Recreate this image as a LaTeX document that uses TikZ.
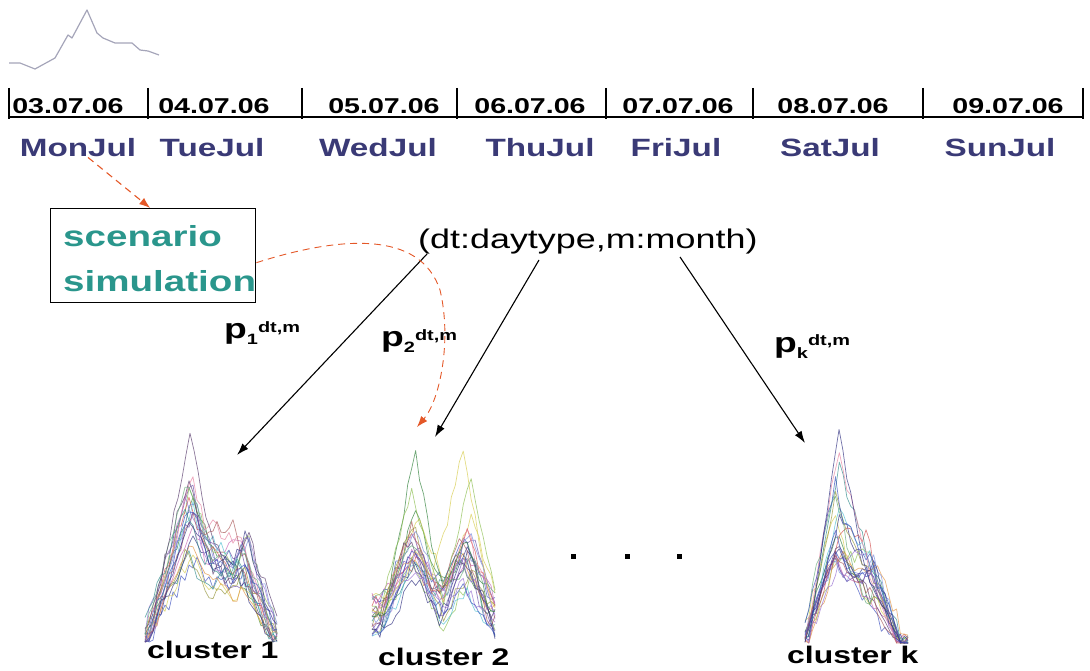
\documentclass[tikz,border=0pt]{standalone}
\usepackage{fontspec}
\setmainfont{Liberation Sans}[FakeStretch=1.33]
\usetikzlibrary{arrows.meta}

\definecolor{dayblue}{RGB}{58,58,118}
\definecolor{simteal}{RGB}{42,150,140}
\definecolor{simred}{RGB}{228,88,40}
\definecolor{loadgray}{RGB}{165,165,185}
% trace colours for the load profiles
\definecolor{tA}{RGB}{110,80,170}
\definecolor{tB}{RGB}{60,80,190}
\definecolor{tC}{RGB}{50,130,60}
\definecolor{tD}{RGB}{140,190,80}
\definecolor{tE}{RGB}{215,205,80}
\definecolor{tF}{RGB}{210,80,80}
\definecolor{tG}{RGB}{200,100,180}
\definecolor{tH}{RGB}{80,190,210}
\definecolor{tI}{RGB}{50,140,140}
\definecolor{tJ}{RGB}{225,150,70}
\definecolor{tK}{RGB}{50,50,130}
\definecolor{tL}{RGB}{150,150,60}
\definecolor{tM}{RGB}{150,110,210}
\definecolor{tN}{RGB}{230,130,160}
\definecolor{tO}{RGB}{120,140,220}
\definecolor{tP}{RGB}{90,60,110}
\definecolor{tQ}{RGB}{170,90,90}
\definecolor{tR}{RGB}{100,170,120}

\tikzset{
  datelbl/.style={anchor=base, inner sep=0pt, font=\fontsize{21.5}{24}\selectfont\bfseries},
  daylbl/.style={anchor=base, inner sep=0pt, text=dayblue, font=\fontsize{25}{28}\selectfont\bfseries},
  simtext/.style={anchor=base west, inner sep=0pt, text=simteal, font=\fontsize{29}{32}\selectfont\bfseries},
  clab/.style={anchor=base west, inner sep=0pt, font=\fontsize{24}{26}\selectfont\bfseries},
  problab/.style={anchor=base west, inner sep=0pt, font=\fontsize{28}{30}\selectfont\bfseries},
  conn/.style={black, line width=1.1pt, -{Latex[length=12pt,width=8pt]}},
  simconn/.style={simred, line width=1.1pt, dash pattern=on 7pt off 5pt, -{Latex[length=11pt,width=8pt]}},
  trace/.style={line width=0.7pt, opacity=0.7, line join=round},
  tick/.style={line width=1.1pt},
  dotmark/.style={fill=black, minimum size=5pt, inner sep=0pt},
}

\newcommand\pdtm[1]{p\raisebox{-6pt}{\fontsize{15}{15}\selectfont #1}\raisebox{6pt}{\fontsize{15}{15}\selectfont dt,m}}

\begin{document}
\begin{tikzpicture}[x=1pt,y=-1pt]
\useasboundingbox (0,0) rectangle (1090,671);

% sample load curve above the calendar
\draw[loadgray, line width=1.2pt, line join=round] plot coordinates {
  (9,63) (20,63) (35,69) (55,58) (68,35) (72,38) (87,10) (97,33) (103,38)
  (115,43) (132,43) (140,50) (148,51) (159,55)};

% calendar line with day separators
\draw[tick] (9,117) -- (1083,117);
\foreach \tx in {9,148,302,457,606,753,923,1083}
  \draw[tick] (\tx,88) -- (\tx,119);

\node[datelbl] (d1) at (68,113.5) {03.07.06};
\node[datelbl] (d2) at (214,113.5) {04.07.06};
\node[datelbl] (d3) at (384,113.5) {05.07.06};
\node[datelbl] (d4) at (530,113.5) {06.07.06};
\node[datelbl] (d5) at (678,113.5) {07.07.06};
\node[datelbl] (d6) at (833,113.5) {08.07.06};
\node[datelbl] (d7) at (1008,113.5) {09.07.06};

\node[daylbl] (mon) at (78,157) {MonJul};
\node[daylbl] (tue) at (212,157) {TueJul};
\node[daylbl] (wed) at (378,157) {WedJul};
\node[daylbl] (thu) at (540,157) {ThuJul};
\node[daylbl] (fri) at (676,157) {FriJul};
\node[daylbl] (sat) at (830,157) {SatJul};
\node[daylbl] (sun) at (1000,157) {SunJul};

% scenario simulation box
\node[draw, line width=1.4pt, minimum width=205pt, minimum height=94pt,
      inner sep=0pt, anchor=north west] (sim) at (50,208) {};
\node[simtext] (scen) at (63,247) {scenario};
\node[simtext] (simu) at (63,291) {simulation};

% condition label
\node[anchor=base west, inner sep=0pt, font=\fontsize{27}{30}\selectfont] (cond) at (418,248) {(dt:daytype,m:month)};

% branch probabilities
\node[problab] (p1) at (224,338) {\pdtm{1}};
\node[problab] (p2) at (381,346) {\pdtm{2}};
\node[problab] (pk) at (774,352) {\pdtm{k}};

% connector ends
\coordinate (o1) at (427,254);
\coordinate (o2) at (539,260);
\coordinate (o3) at (680,257);
\coordinate (c1in) at (237,455);
\coordinate (c2in) at (435,437);
\coordinate (ckin) at (805,443);
\coordinate (c2red) at (417,427);

% load profile clusters
\pgfmathsetseed{17}
\foreach \col in {tA,tB,tC,tD,tE,tF,tG,tH,tI,tJ,tK,tL,tM,tN,tO,tP,tQ,tR,tA,tB,tK,tI}{
  \pgfmathsetmacro\Aa{80+90*rnd}
  \pgfmathsetmacro\Ab{50+60*rnd}
  \pgfmathsetmacro\ca{190+10*(rnd-0.5)}
  \pgfmathsetmacro\cb{242+14*(rnd-0.5)}
  \draw[trace,\col] plot[domain=145:277, samples=34]
    (\x, {min(642, 640 - \Aa*max(0,1-abs(\x-\ca)/45) - \Ab*max(0,1-abs(\x-\cb)/35) - 16*(rnd-0.5))});
}
\draw[trace,tP] plot[domain=150:270, samples=31]
  (\x, {min(642, 640 - 205*max(0,1-abs(\x-190)/42) - 70*max(0,1-abs(\x-240)/32) - 10*(rnd-0.5))});

\foreach \col in {tA,tB,tC,tD,tE,tF,tG,tH,tI,tJ,tK,tL,tM,tN,tO,tP,tQ,tR,tA,tK,tM,tB}{
  \pgfmathsetmacro\Aa{40+60*rnd}
  \pgfmathsetmacro\Ab{40+55*rnd}
  \pgfmathsetmacro\bb{5+35*rnd}
  \pgfmathsetmacro\ca{413+10*(rnd-0.5)}
  \pgfmathsetmacro\cb{465+12*(rnd-0.5)}
  \draw[trace,\col] plot[domain=372:495, samples=32]
    (\x, {min(660, 638 - \bb - \Aa*max(0,1-abs(\x-\ca)/32) - \Ab*max(0,1-abs(\x-\cb)/28) - 16*(rnd-0.5))});
}
\draw[trace,tC] plot[domain=372:495, samples=32]
  (\x, {min(660, 615 - 165*max(0,1-abs(\x-415)/30) - 75*max(0,1-abs(\x-465)/28) - 12*(rnd-0.5))});
\draw[trace,tE] plot[domain=372:495, samples=32]
  (\x, {min(660, 612 - 60*max(0,1-abs(\x-418)/32) - 170*max(0,1-abs(\x-462)/30) - 12*(rnd-0.5))});
\draw[trace,tD] plot[domain=372:495, samples=32]
  (\x, {min(660, 610 - 120*max(0,1-abs(\x-412)/32) - 140*max(0,1-abs(\x-470)/28) - 12*(rnd-0.5))});

\foreach \col in {tA,tB,tC,tD,tE,tF,tG,tH,tI,tJ,tK,tL,tM,tN,tO,tP,tQ,tR,tB,tK,tA,tB}{
  \pgfmathsetmacro\Aa{80+110*rnd}
  \pgfmathsetmacro\Ab{35+55*rnd}
  \pgfmathsetmacro\ca{838+8*(rnd-0.5)}
  \pgfmathsetmacro\cb{872+12*(rnd-0.5)}
  \draw[trace,\col] plot[domain=805:908, samples=28]
    (\x, {min(643, 641 - \Aa*max(0,1-abs(\x-\ca)/33) - \Ab*max(0,1-abs(\x-\cb)/28) - 14*(rnd-0.5))});
}
\draw[trace,tK] plot[domain=808:905, samples=26]
  (\x, {min(643, 641 - 215*max(0,1-abs(\x-839)/30) - 60*max(0,1-abs(\x-872)/28) - 8*(rnd-0.5))});

% ellipsis between clusters
\node[dotmark] (e1) at (573,556) {};
\node[dotmark] (e2) at (627,556) {};
\node[dotmark] (e3) at (679,556) {};

% cluster labels
\node[clab] (cl1) at (147,658) {cluster 1};
\node[clab] (cl2) at (378,665) {cluster 2};
\node[clab] (clk) at (787,663) {cluster k};

% connectors
\draw[conn] (o1) -- (c1in);
\draw[conn] (o2) -- (c2in);
\draw[conn] (o3) -- (ckin);
\draw[simconn] ([xshift=10pt]mon.south) -- ([xshift=-3pt]sim.north);
\draw[simconn, line width=0.9pt] ([yshift=-7pt]sim.east) .. controls (340,236) and (420,230) .. (440,290)
  .. controls (452,340) and (440,400) .. (c2red);
\end{tikzpicture}
\end{document}
